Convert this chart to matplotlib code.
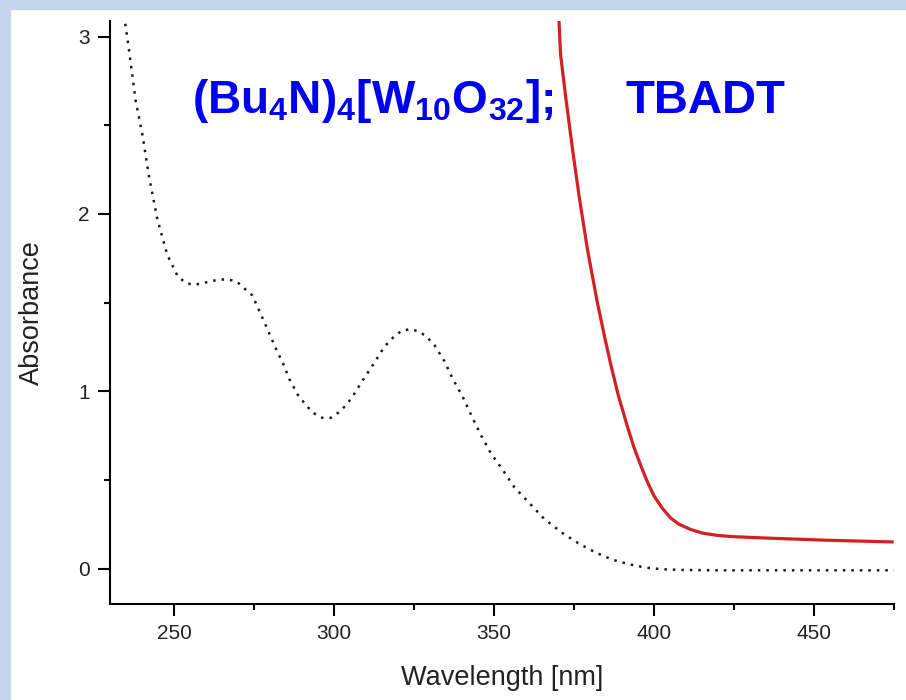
import matplotlib
matplotlib.use('Agg')
import matplotlib.pyplot as plt
from matplotlib.patches import Rectangle
from matplotlib.ticker import MultipleLocator

plt.rcParams['font.family'] = ['Liberation Sans', 'DejaVu Sans']
plt.rcParams['mathtext.fontset'] = 'custom'
plt.rcParams['mathtext.rm'] = 'Liberation Sans'
plt.rcParams['mathtext.bf'] = 'Liberation Sans:bold'

# dotted spectrum (wavelength nm, absorbance)
wl_dot = [234.4, 235.9, 238.0, 240.1, 242.2, 244.8, 247.9, 251.1, 253.7, 256.3,
          259.0, 264.0, 267.0, 269.5, 272.0, 274.5, 277.0, 279.2, 281.6, 284.0,
          286.0, 289.0, 293.3, 296.4, 299.0, 301.4, 303.7, 305.8, 308.9, 312.6,
          315.7, 318.3, 321.0, 323.6, 326.2, 328.8, 331.4, 334.5, 337.1, 340.2,
          343.0, 346.0, 349.0, 352.6, 356.3, 361.0, 365.7, 371.4, 376.6, 381.8,
          387.0, 392.2, 397.4, 402.6, 409.0, 420.0, 440.0, 460.0, 475.0]
abs_dot = [3.12, 2.93, 2.64, 2.45, 2.21, 1.97, 1.77, 1.65, 1.61, 1.60,
           1.61, 1.63, 1.63, 1.62, 1.58, 1.54, 1.44, 1.35, 1.25, 1.16,
           1.07, 0.97, 0.88, 0.85, 0.85, 0.88, 0.92, 0.97, 1.06, 1.16,
           1.25, 1.30, 1.34, 1.35, 1.34, 1.31, 1.26, 1.17, 1.07, 0.97,
           0.86, 0.75, 0.65, 0.56, 0.46, 0.37, 0.28, 0.20, 0.14, 0.09,
           0.05, 0.024, 0.005, -0.004, -0.008, -0.01, -0.01, -0.01, -0.01]

# red spectrum
wl_red = [370.3, 370.8, 372.4, 374.5, 376.6, 379.2, 382.3, 384.4, 386.5, 388.8,
          391.7, 393.8, 395.9, 397.9, 400.0, 402.6, 405.2, 407.8, 411.5, 415.1,
          419.8, 424.5, 431.0, 438.0, 453.6, 474.4]
abs_red = [3.09, 2.90, 2.66, 2.37, 2.10, 1.80, 1.50, 1.32, 1.15, 0.98,
           0.80, 0.68, 0.58, 0.49, 0.41, 0.34, 0.285, 0.25, 0.22, 0.20,
           0.187, 0.18, 0.175, 0.17, 0.16, 0.15]

fig = plt.figure(figsize=(9.06, 7.0), dpi=100)

# light blue frame on the left and top
fig.patches.append(Rectangle((0, 0), 10/906, 1, transform=fig.transFigure,
                             color='#c4d5eb', zorder=0))
fig.patches.append(Rectangle((0, 1 - 9/700), 1, 9/700, transform=fig.transFigure,
                             color='#c4d5eb', zorder=0))

ax = fig.add_axes([110/906, 96/700, 784/906, 583.3/700])
ax.plot(wl_dot, abs_dot, color='#1a1a1a', lw=1.8, linestyle=(0, (1, 2.4)))
ax.plot(wl_red, abs_red, color='#d42020', lw=2.3)

ax.set_xlim(230, 475)
ax.set_ylim(-0.2, 3.09)
ax.spines['top'].set_visible(False)
ax.spines['right'].set_visible(False)
for s in ['left', 'bottom']:
    ax.spines[s].set_linewidth(1.5)

ax.xaxis.set_major_locator(MultipleLocator(50))
ax.xaxis.set_minor_locator(MultipleLocator(25))
ax.yaxis.set_major_locator(MultipleLocator(1))
ax.yaxis.set_minor_locator(MultipleLocator(0.5))
ax.tick_params(which='major', direction='out', length=8.5, width=1.5,
               labelsize=15, labelcolor='#222222', pad=6)
ax.tick_params(which='minor', direction='out', length=4.5, width=1.5)

ax.set_xlabel('Wavelength [nm]', fontsize=19.5, color='#222222', labelpad=16)
ax.set_ylabel('Absorbance', fontsize=19.5, color='#222222', labelpad=24)

fig.text(192/906, 1 - 113.3/700, r'$\mathbf{(Bu_4N)_4[W_{10}O_{32}];}$',
         fontsize=33, color='#0000f0', ha='left', va='baseline')
fig.text(626/906, 1 - 113.3/700, 'TBADT', fontsize=34, fontweight='bold',
         color='#0000f0', ha='left', va='baseline')

fig.savefig('out.png', dpi=100)
